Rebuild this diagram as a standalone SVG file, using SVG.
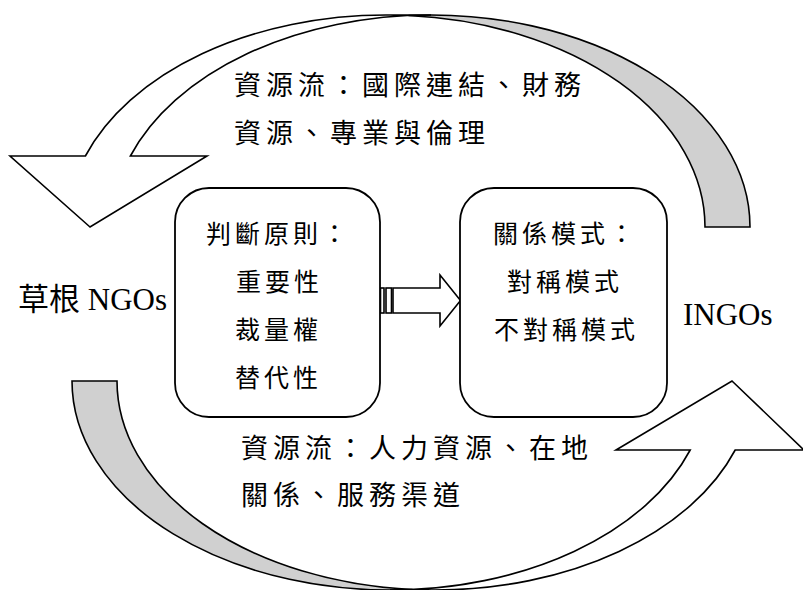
<svg xmlns="http://www.w3.org/2000/svg" width="803" height="590" viewBox="0 0 803 590">
  <style>
    .arrow { stroke: #000; stroke-width: 1.6; stroke-linejoin: miter; }
    .front { fill: #fff; }
    .back { fill: #d0d0d0; }
    .box { fill: #fff; stroke: #000; stroke-width: 1.8; }
    .cjk { font-family: "Noto Sans CJK TC", "Noto Sans CJK SC", sans-serif; fill: #000; }
    .flow { font-size: 27px; letter-spacing: 5px; }
    .inbox { font-size: 25px; letter-spacing: 4px; }
    .lat { font-family: "Liberation Serif", "Noto Sans CJK TC", serif; font-size: 31px; fill: #000; }
  </style>
  <rect width="803" height="590" fill="#fff"/>
  <g id="connectors">
    <g id="flow-top">
      <path class="arrow back" d="M 750 227 A 319 212 0 0 0 408.5 15.5 A 319 212 0 0 1 705 227 Z"/>
      <path class="arrow front" d="M 90 227 L 10 156 L 85.4 156 A 319 212 0 0 1 386 15 L 431 15 A 319 212 0 0 0 130.4 156 L 207 156 Z"/>
      <text class="cjk flow" x="234" y="95">資源流：國際連結、財務</text>
      <text class="cjk flow" x="234" y="143">資源、專業與倫理</text>
    </g>
    <g id="flow-bottom">
      <path class="arrow back" d="M 72 381 L 117 381 A 318 209 0 0 0 412.5 589.5 A 318 209 0 0 1 72 381 Z"/>
      <path class="arrow front" d="M 732 381 L 804 450 L 735.2 450 A 318 209 0 0 1 435 590 L 390 590 A 318 209 0 0 0 690.2 450 L 616 450 Z"/>
      <text class="cjk flow" x="241" y="458">資源流：人力資源、在地</text>
      <text class="cjk flow" x="241" y="505">關係、服務渠道</text>
    </g>
    <g id="principles-to-modes">
      <rect class="arrow front" x="380.5" y="288" width="3.5" height="25"/>
      <rect class="arrow front" x="386" y="288" width="5.5" height="25"/>
      <path class="arrow front" d="M 393 288 L 440 288 L 440 275 L 460.5 300.5 L 440 326 L 440 313 L 393 313 Z"/>
    </g>
  </g>
  <g id="node-principles">
    <rect class="box" x="175" y="188" width="205" height="229" rx="34" ry="34"/>
    <text class="cjk inbox" x="206" y="243">判斷原則：</text>
    <text class="cjk inbox" x="236" y="290.5">重要性</text>
    <text class="cjk inbox" x="235" y="338.5">裁量權</text>
    <text class="cjk inbox" x="235" y="387">替代性</text>
  </g>
  <g id="node-modes">
    <rect class="box" x="460" y="188" width="207" height="229" rx="34" ry="34"/>
    <text class="cjk inbox" x="493" y="243">關係模式：</text>
    <text class="cjk inbox" x="507" y="290.5">對稱模式</text>
    <text class="cjk inbox" x="494" y="338.5">不對稱模式</text>
  </g>
  <g id="node-grassroots">
    <text class="lat" x="18" y="310">草根 NGOs</text>
  </g>
  <g id="node-ingos">
    <text class="lat" x="683" y="325">INGOs</text>
  </g>
</svg>
